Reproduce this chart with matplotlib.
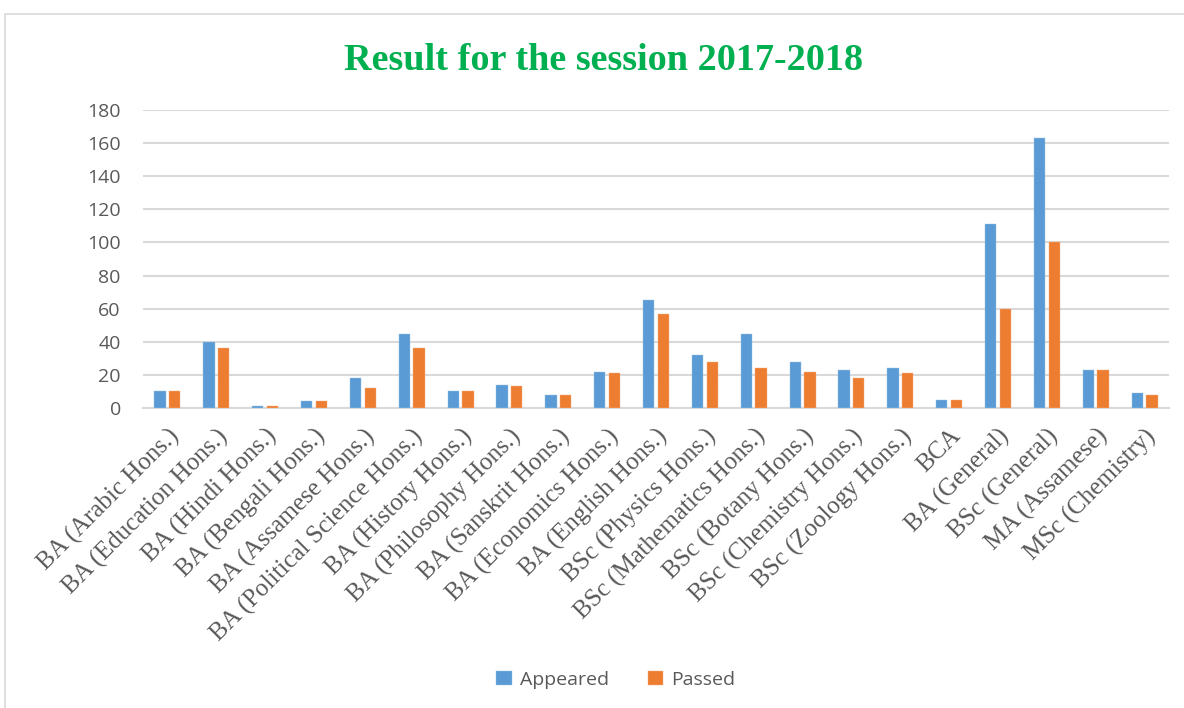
import numpy as np
import matplotlib.pyplot as plt
from matplotlib.patches import Rectangle

courses = ["BA (Arabic Hons.)", "BA (Education Hons.)", "BA (Hindi Hons.)",
           "BA (Bengali Hons.)", "BA (Assamese Hons.)", "BA (Political Science Hons.)",
           "BA (History Hons.)", "BA (Philosophy Hons.)", "BA (Sanskrit Hons.)",
           "BA (Economics Hons.)", "BA (English Hons.)", "BSc (Physics Hons.)",
           "BSc (Mathematics Hons.)", "BSc (Botany Hons.)", "BSc (Chemistry Hons.)",
           "BSc (Zoology Hons.)", "BCA", "BA (General)", "BSc (General)",
           "MA (Assamese)", "MSc (Chemistry)"]
appeared = [10, 40, 1, 4, 18, 45, 10, 14, 8, 22, 65, 32, 45, 28, 23, 24, 5, 111, 163, 23, 9]
passed = [10, 36, 1, 4, 12, 36, 10, 13, 8, 21, 57, 28, 24, 22, 18, 21, 5, 60, 100, 23, 8]
yticks = [0, 20, 40, 60, 80, 100, 120, 140, 160, 180]

blue = "#5B9BD5"
orange = "#ED7D31"
grey = "#595959"

fig = plt.figure(figsize=(11.84, 7.08), dpi=100)
fig.patches.append(Rectangle((5 / 1184, -0.01), 1.1, (708 - 14) / 708 + 0.01,
                             transform=fig.transFigure, fill=False,
                             edgecolor="#D9D9D9", linewidth=1.2))

ax = fig.add_axes([143 / 1184, 300 / 708, 1026 / 1184, 298 / 708])
x = np.arange(len(courses))
w = 0.23
ax.bar(x - 0.15, appeared, w, color=blue, edgecolor="#9DC3E6", linewidth=0.3,
       label="Appeared", zorder=3)
ax.bar(x + 0.15, passed, w, color=orange, edgecolor="#F4B183", linewidth=0.3,
       label="Passed", zorder=3)

ax.set_xlim(-0.5, len(courses) - 0.5)
ax.set_ylim(0, 180)
ax.set_yticks(yticks)
ax.grid(axis="y", color="#D9D9D9", linewidth=1.5, zorder=0)
for s in ["top", "right", "left"]:
    ax.spines[s].set_visible(False)
ax.spines["bottom"].set_color("#D9D9D9")
ax.spines["bottom"].set_linewidth(1.5)
ax.tick_params(length=0)
ax.tick_params(axis="y", pad=16, labelsize=14, labelcolor=grey)
for t in ax.get_yticklabels():
    t.set_fontfamily("Open Sans")

ax.set_xticks(x)
ax.set_xticklabels(courses, rotation=45, ha="right", rotation_mode="anchor",
                   fontfamily="Liberation Serif", fontsize=18, color=grey)
ax.tick_params(axis="x", pad=12)

fig.text(0.510, 0.915, "Result for the session 2017-2018", ha="center", va="center",
         fontfamily="Liberation Serif", fontweight="bold", fontsize=27.5, color="#00B050")

fig.legend(loc="center", bbox_to_anchor=(0.52, 0.04), ncol=2, frameon=False,
           prop={"family": "Open Sans", "size": 14}, labelcolor=grey,
           handlelength=0.8, handleheight=0.8, columnspacing=2.0, handletextpad=0.4)

fig.savefig("out.png", dpi=100)
